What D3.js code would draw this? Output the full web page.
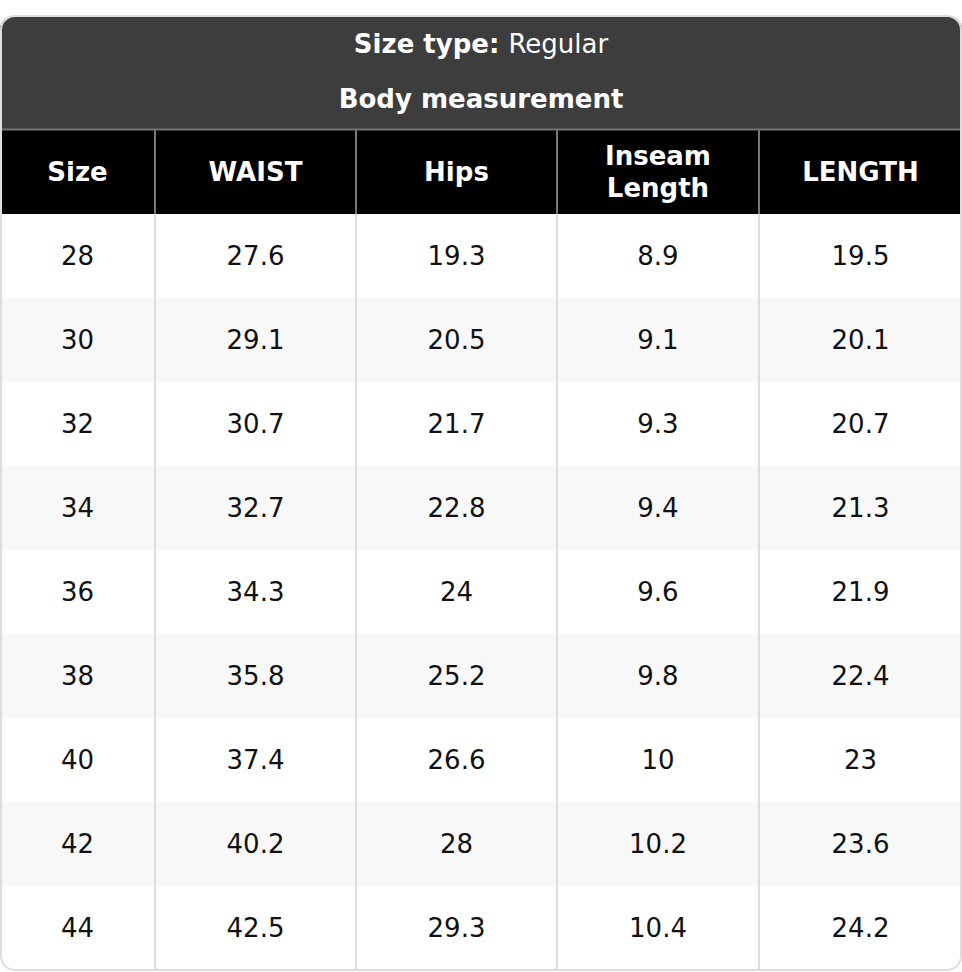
<!DOCTYPE html>
<html><head><meta charset="utf-8">
<script src="https://cdn.jsdelivr.net/npm/d3@7"></script>
<style>body{margin:0;background:#fff}</style>
</head><body>
<svg id="tbl" width="962" height="972"></svg>
<script>
const columns = ["Size", "WAIST", "Hips", "Inseam\nLength", "LENGTH"];
const sizes = ["28", "30", "32", "34", "36", "38", "40", "42", "44"];
const waist = ["27.6", "29.1", "30.7", "32.7", "34.3", "35.8", "37.4", "40.2", "42.5"];
const hips = ["19.3", "20.5", "21.7", "22.8", "24", "25.2", "26.6", "28", "29.3"];
const inseam = ["8.9", "9.1", "9.3", "9.4", "9.6", "9.8", "10", "10.2", "10.4"];
const lengthVals = ["19.5", "20.1", "20.7", "21.3", "21.9", "22.4", "23", "23.6", "24.2"];
const rows = sizes.map((s, i) => [s, waist[i], hips[i], inseam[i], lengthVals[i]]);

const svg = d3.select("#tbl");
const font = "DejaVu Sans";
const W = 962, topY = 16, titleH = 113, headH = 85, rowH = 84;
const colEdges = [0, 155, 356, 557, 759, 962];
const cx = i => (colEdges[i] + colEdges[i + 1]) / 2;
const y = d3.scaleBand().domain(d3.range(rows.length)).range([topY + titleH + headH, topY + titleH + headH + rowH * rows.length]);

// outer clip with rounded corners
svg.append("clipPath").attr("id", "clip").append("rect")
  .attr("x", 0).attr("y", topY).attr("width", W).attr("height", y.range()[1] - topY + 1).attr("rx", 14);
const g = svg.append("g").attr("clip-path", "url(#clip)");

g.append("rect").attr("x", 0).attr("y", topY).attr("width", W).attr("height", titleH).attr("fill", "#3d3d3d");
const t1 = g.append("text").attr("x", W / 2).attr("y", 44).attr("text-anchor", "middle")
  .attr("dominant-baseline", "central").style("font", `26px '${font}'`).attr("fill", "#fff");
t1.append("tspan").style("font-weight", "bold").text("Size type: ");
t1.append("tspan").text("Regular");
g.append("text").attr("x", W / 2).attr("y", 99).attr("text-anchor", "middle")
  .attr("dominant-baseline", "central").style("font", `bold 26px '${font}'`).attr("fill", "#fff")
  .text("Body measurement");

// header row
const hy = topY + titleH;
g.append("rect").attr("x", 0).attr("y", hy).attr("width", W).attr("height", headH).attr("fill", "#000");
g.append("line").attr("x1", 0).attr("x2", W).attr("y1", hy + 0.5).attr("y2", hy + 0.5).attr("stroke", "#777").attr("stroke-width", 2);
columns.forEach((c, i) => {
  const lines = c.split("\n");
  const tx = g.append("text").attr("x", cx(i)).attr("text-anchor", "middle")
    .style("font", `bold 26px '${font}'`).attr("fill", "#fff");
  lines.forEach((l, k) => {
    tx.append("tspan").attr("x", cx(i)).attr("y", hy + headH / 2 + (k - (lines.length - 1) / 2) * 32)
      .attr("dominant-baseline", "central").text(l);
  });
});

// body rows
rows.forEach((r, i) => {
  g.append("rect").attr("x", 0).attr("y", y(i)).attr("width", W).attr("height", y.bandwidth())
    .attr("fill", i % 2 ? "#f8f8f8" : "#fff");
  r.forEach((v, j) => {
    g.append("text").attr("x", cx(j)).attr("y", y(i) + y.bandwidth() / 2)
      .attr("text-anchor", "middle").attr("dominant-baseline", "central")
      .style("font", `26px '${font}'`).attr("fill", "#111").text(v);
  });
});

// vertical grid lines
colEdges.slice(1, -1).forEach(x => {
  g.append("line").attr("x1", x).attr("x2", x).attr("y1", hy).attr("y2", hy + headH).attr("stroke", "#777").attr("stroke-width", 2);
  g.append("line").attr("x1", x).attr("x2", x).attr("y1", hy + headH).attr("y2", y.range()[1]).attr("stroke", "#ddd").attr("stroke-width", 2);
});
// outer border
svg.append("rect").attr("x", 1).attr("y", topY).attr("width", W - 2).attr("height", y.range()[1] - topY)
  .attr("rx", 14).attr("fill", "none").attr("stroke", "#ddd").attr("stroke-width", 2);
</script>
</body></html>
